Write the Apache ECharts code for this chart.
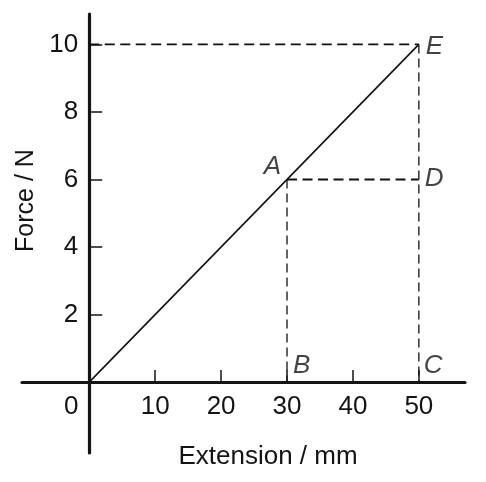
<!DOCTYPE html>
<html>
<head>
<meta charset="utf-8">
<script src="https://cdn.jsdelivr.net/npm/echarts@6/dist/echarts.min.js"></script>
<style>html,body{margin:0;padding:0;background:#fff}#c{width:486px;height:482px}</style>
</head>
<body>
<div id="c"></div>
<script>
// Data
const extension = [0, 50];          // mm
const force = [0, 10];              // N
const pointNames = ['A', 'B', 'C', 'D', 'E'];
const pointX = [30, 30, 50, 50, 50];
const pointY = [6, 0, 0, 6, 10];
const xTickValues = [10, 20, 30, 40, 50];
const xLabelValues = [0, 10, 20, 30, 40, 50];
const yTickValues = [2, 4, 6, 8, 10];
const xAxisExtent = [-10.2, 57];
const yAxisExtent = [-2.1, 10.9];
const xTitle = 'Extension / mm';
const yTitle = 'Force / N';

const FONT = '"Liberation Sans", Arial, Helvetica, sans-serif';
const INK = '#141414';
const P = {};
pointNames.forEach((n, i) => { P[n] = [pointX[i], pointY[i]]; });
const O = [extension[0], force[0]];

// dashed construction lines built from the named points
const dashedH = [[[O[0], P.E[1]], P.E], [P.A, P.D]];
const dashedV = [[P.E, P.C], [P.A, P.B]];

const labelLayout = {
  A: { position: 'left', distance: 6, offset: [0, -13] },
  B: { position: 'right', distance: 6, offset: [0, -16] },
  C: { position: 'right', distance: 5, offset: [0, -16] },
  D: { position: 'right', distance: 6, offset: [0, -1] },
  E: { position: 'right', distance: 7, offset: [0, 2] }
};

// layout: grid spans the full axis extents; axes are shifted so they cross at the origin
const gridLeft = 22, gridTop = 14, gridW = 443, gridH = 439;
const originPx = [
  gridLeft + (0 - xAxisExtent[0]) / (xAxisExtent[1] - xAxisExtent[0]) * gridW,
  gridTop + (yAxisExtent[1] - 0) / (yAxisExtent[1] - yAxisExtent[0]) * gridH
];
const xOffset = -((gridTop + gridH) - originPx[1]);
const yOffset = -(originPx[0] - gridLeft);

const series = [];
series.push({
  type: 'line', data: extension.map((x, i) => [x, force[i]]),
  symbol: 'none', lineStyle: { color: '#111', width: 1.6 }, z: 5, silent: true
});
dashedH.forEach(seg => series.push({
  type: 'line', data: seg, symbol: 'none', silent: true,
  lineStyle: { color: '#111', width: 1.9, type: [10, 5.5] }
}));
dashedV.forEach(seg => series.push({
  type: 'line', data: seg, symbol: 'none', silent: true,
  lineStyle: { color: '#111', width: 1.3, type: [9, 5] }
}));
series.push({
  type: 'scatter', symbolSize: 0, silent: true,
  data: pointNames.map((n, i) => ({
    value: [pointX[i], pointY[i]],
    label: Object.assign({ show: true, formatter: n }, labelLayout[n])
  })),
  label: { color: INK, fontSize: 26, fontStyle: 'italic', fontFamily: FONT }
});

const chart = echarts.init(document.getElementById('c'), null, { renderer: 'canvas' });
chart.setOption({
  animation: false,
  backgroundColor: '#fff',
  grid: { left: gridLeft, top: gridTop, width: gridW, height: gridH, containLabel: false, outerBoundsMode: 'none' },
  xAxis: {
    type: 'value', min: xAxisExtent[0], max: xAxisExtent[1], offset: xOffset,
    name: xTitle, nameLocation: 'middle', nameGap: 62,
    nameTextStyle: { color: INK, fontSize: 26, fontFamily: FONT, padding: [0, 0, 0, 49] },
    splitLine: { show: false },
    axisLine: { onZero: false, lineStyle: { color: INK, width: 3.2 } },
    axisTick: { show: true, inside: true, length: 12, customValues: xTickValues,
      lineStyle: { color: INK, width: 1.5 } },
    axisLabel: {
      customValues: xLabelValues, margin: 12, color: INK, fontSize: 26, fontFamily: FONT,
      formatter: v => v === 0 ? '{z|0}' : String(v),
      rich: { z: { fontSize: 26, fontFamily: FONT, color: INK, padding: [0, 36, 0, 0] } }
    }
  },
  yAxis: {
    type: 'value', min: yAxisExtent[0], max: yAxisExtent[1], offset: yOffset,
    name: yTitle, nameLocation: 'middle', nameGap: 47, nameRotate: 90,
    nameTextStyle: { color: INK, fontSize: 25, fontFamily: FONT, padding: [0, 0, 0, 66] },
    splitLine: { show: false },
    axisLine: { onZero: false, lineStyle: { color: INK, width: 3.2 } },
    axisTick: { show: true, inside: true, length: 13, customValues: yTickValues,
      lineStyle: { color: INK, width: 1.5 } },
    axisLabel: { customValues: yTickValues, margin: 11, color: INK, fontSize: 26, fontFamily: FONT }
  },
  series: series
});
</script>
</body>
</html>
